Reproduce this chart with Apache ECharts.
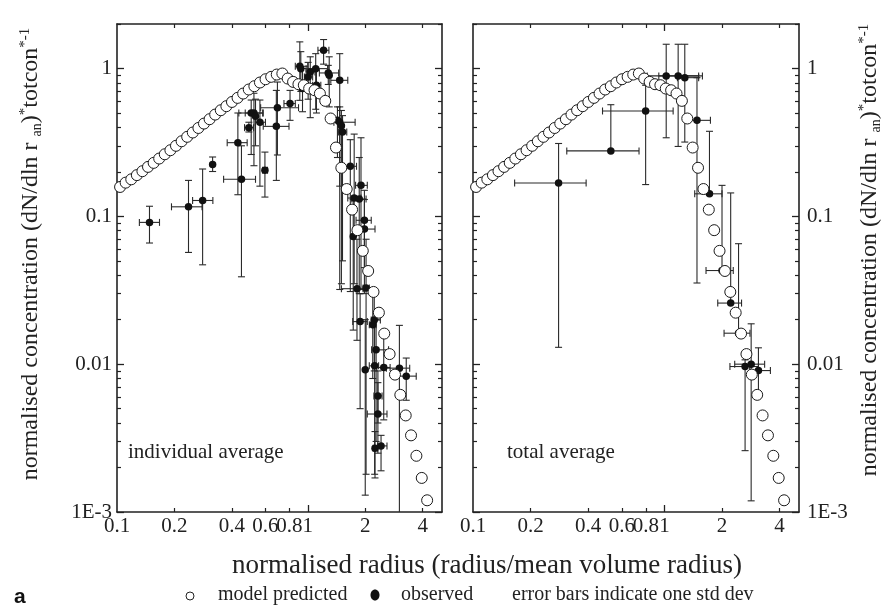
<!DOCTYPE html>
<html><head><meta charset="utf-8">
<script src="https://cdn.jsdelivr.net/npm/echarts@6/dist/echarts.min.js"></script>
<style>html,body{margin:0;padding:0;background:#fff}#c{width:895px;height:607px}</style>
</head><body><div id="c"></div>
<script>
// ---------- tick definitions ----------
const xTickLabels = [0.1, 0.2, 0.4, 0.6, 0.8, 1, 2, 4];
const xMajorTicks = [1];
const xMinorTicks = [0.2, 0.4, 0.6, 0.8, 2, 4];
const yTickLabels = [0.001, 0.01, 0.1, 1];
const yTickLabelText = ['1E-3', '0.01', '0.1', '1'];
const yMajorTicks = [0.001, 0.01, 0.1, 1];
const yMinorTicks = [0.002,0.003,0.004,0.005,0.006,0.007,0.008,0.009,
                     0.02,0.03,0.04,0.05,0.06,0.07,0.08,0.09,
                     0.2,0.3,0.4,0.5,0.6,0.7,0.8,0.9,2];

// ---------- model predicted (open circles, same in both panels) ----------
const modelX = [0.1038,0.1110,0.1188,0.1271,0.1359,0.1454,0.1556,0.1664,0.1780,0.1905,
  0.2038,0.2181,0.2333,0.2496,0.2671,0.2857,0.3057,0.3270,0.3499,0.3743,
  0.4005,0.4284,0.4584,0.4904,0.5247,0.5613,0.6006,0.6426,0.6875,0.7355,
  0.7847,0.8372,0.8932,0.9528,1.0165,1.0844,1.1570,1.2343,1.3168,1.4049,
  1.4988,1.5990,1.7060,1.8197,1.9415,2.0715,2.2097,2.3575,2.5153,2.6834,
  2.8629,3.0540,3.2584,3.4754,3.7076,3.9555,4.2207];
const modelY = [0.158,0.169,0.178,0.190,0.202,0.216,0.230,0.246,0.263,0.280,
  0.300,0.322,0.345,0.369,0.396,0.424,0.454,0.488,0.522,0.556,
  0.594,0.633,0.677,0.721,0.759,0.804,0.846,0.878,0.910,0.925,
  0.855,0.812,0.783,0.771,0.732,0.713,0.677,0.604,0.459,0.292,
  0.213,0.153,0.111,0.0806,0.0584,0.0427,0.0308,0.0223,0.0161,0.0117,
  0.0085,0.0062,0.0045,0.0033,0.0024,0.0017,0.0012];

// ---------- observed, individual average (left panel) ----------
const indX   = [0.148,0.237,0.281,0.317,0.430,0.449,0.491,0.505,0.522,0.532,0.561,0.596,0.684,0.693,0.807,0.908,0.919,0.938,1.004,1.030,1.100,1.110,1.210,1.280,1.295,1.470,1.430,1.470,1.500,1.520,1.670,1.900,1.750,1.860,1.980,1.980,1.730,1.810,2.020,1.880,2.190,2.230,2.280,2.000,2.240,2.500,3.020,3.280,2.330,2.330,2.250,2.420];
const indY   = [0.091,0.116,0.128,0.224,0.315,0.178,0.398,0.500,0.500,0.475,0.433,0.205,0.406,0.543,0.579,1.035,0.998,0.731,0.877,0.948,0.998,0.770,1.328,0.933,0.899,0.832,0.446,0.433,0.410,0.372,0.218,0.162,0.133,0.131,0.094,0.082,0.073,0.0324,0.0327,0.0194,0.0185,0.0199,0.0125,0.00915,0.00974,0.0095,0.0094,0.0083,0.0061,0.0046,0.0027,0.0028];
const indXlo = [0.131,0.193,0.249,null,0.378,0.362,0.466,0.435,0.470,null,0.530,0.580,0.584,0.566,0.750,0.860,null,0.900,0.960,0.980,0.980,1.060,1.130,1.150,null,1.320,1.350,1.370,null,1.450,1.550,1.780,1.620,1.700,1.790,1.790,null,1.500,1.950,1.720,2.100,2.150,2.160,null,2.100,2.300,2.580,2.900,2.220,2.050,2.200,2.320];
const indXhi = [0.167,0.279,0.318,null,0.481,0.532,0.520,0.584,0.580,null,0.600,0.615,0.797,0.894,0.860,1.000,null,0.980,1.060,1.090,1.270,1.170,1.290,1.450,null,1.620,1.520,1.770,null,1.600,1.800,2.050,1.900,2.020,2.150,2.250,null,1.950,2.100,2.050,2.280,2.400,2.650,null,2.350,2.700,3.420,3.700,2.450,2.600,2.320,2.600];
const indYlo = [0.066,0.057,0.047,0.201,0.140,0.039,0.372,0.262,0.220,0.300,0.160,0.135,0.175,0.260,0.446,0.609,0.700,0.510,0.620,0.465,0.530,0.500,1.070,0.780,0.550,0.032,0.250,0.160,0.035,0.050,0.031,0.032,0.035,0.030,0.045,0.030,0.017,0.0145,0.0018,0.005,0.008,0.009,0.003,0.0013,0.0018,0.0042,0.001,0.0057,0.0040,0.0025,0.0017,0.0019];
const indYhi = [0.117,0.175,0.209,0.252,0.500,0.300,0.433,0.612,0.680,0.620,0.612,0.272,0.711,0.810,0.711,1.514,1.300,1.000,1.100,1.200,1.260,0.980,1.570,1.050,1.200,1.260,0.550,0.550,0.520,0.480,0.330,0.340,0.360,0.250,0.150,0.130,0.130,0.070,0.070,0.030,0.030,0.032,0.020,0.020,0.020,0.0154,0.0183,0.0110,0.0090,0.0075,0.0035,0.0033];

// ---------- observed, total average (right panel) ----------
const totX   = [0.280,0.525,0.798,1.022,1.180,1.278,1.480,1.720,2.000,2.220,2.440,2.640,2.840,3.100];
const totY   = [0.168,0.277,0.516,0.891,0.891,0.867,0.446,0.142,0.0430,0.0259,0.0162,0.00964,0.0100,0.00905];
const totXlo = [0.165,0.309,0.475,0.813,0.935,1.170,1.290,1.440,1.650,1.900,2.050,2.200,2.330,2.790];
const totXhi = [0.390,0.737,1.111,1.510,1.580,1.510,1.740,2.000,2.290,2.530,2.800,3.100,3.340,3.580];
const totYlo = [0.0130,null,0.164,0.340,0.297,0.318,0.0354,null,null,null,null,0.0026,0.00119,0.0063];
const totYhi = [0.311,0.569,0.770,1.459,1.459,1.459,0.867,0.376,0.162,0.144,0.0653,0.0107,0.01875,0.0129];

// ---------- build ----------
const SERIF = '"Liberation Serif", "DejaVu Serif", serif';
const INK = '#222';
const X_MIN = 0.1, X_MAX = 5.05, Y_MIN = 0.001, Y_MAX = 2;

function near(v, arr) {
  for (let i = 0; i < arr.length; i++) if (Math.abs(v / arr[i] - 1) < 1e-6) return i;
  return -1;
}
function xAxesFor(g) {
  const base = {type: 'log', logBase: 10, gridIndex: g, min: X_MIN, max: X_MAX,
    splitLine: {show: false}, minorTick: {show: false}, minorSplitLine: {show: false}};
  const fmt = v => { const i = near(v, xTickLabels); return i >= 0 ? String(xTickLabels[i]) : ''; };
  return [
    Object.assign({}, base, {position: 'bottom',
      axisLine: {show: true, onZero: false, lineStyle: {color: INK, width: 1.6}},
      axisTick: {show: true, inside: true, length: 7, customValues: xMajorTicks, lineStyle: {color: INK, width: 1.3}},
      axisLabel: {show: true, customValues: xTickLabels, formatter: fmt, hideOverlap: false,
        fontFamily: SERIF, fontSize: 21, color: INK, margin: 4}}),
    Object.assign({}, base, {position: 'bottom', axisLine: {show: false, onZero: false},
      axisTick: {show: true, inside: true, length: 4, customValues: xMinorTicks, lineStyle: {color: INK, width: 1.2}},
      axisLabel: {show: false}}),
    Object.assign({}, base, {position: 'top',
      axisLine: {show: true, onZero: false, lineStyle: {color: INK, width: 1.6}},
      axisTick: {show: true, inside: true, length: 7, customValues: xMajorTicks, lineStyle: {color: INK, width: 1.3}},
      axisLabel: {show: false}}),
    Object.assign({}, base, {position: 'top', axisLine: {show: false, onZero: false},
      axisTick: {show: true, inside: true, length: 4, customValues: xMinorTicks, lineStyle: {color: INK, width: 1.2}},
      axisLabel: {show: false}})
  ];
}
function yAxesFor(g, labelSide) {
  const base = {type: 'log', logBase: 10, gridIndex: g, min: Y_MIN, max: Y_MAX,
    splitLine: {show: false}, minorTick: {show: false}, minorSplitLine: {show: false}};
  const fmt = v => { const i = near(v, yTickLabels); return i >= 0 ? yTickLabelText[i] : ''; };
  const out = [];
  ['left', 'right'].forEach(side => {
    out.push(Object.assign({}, base, {position: side,
      axisLine: {show: true, onZero: false, lineStyle: {color: INK, width: 1.6}},
      axisTick: {show: true, inside: true, length: 7, customValues: yMajorTicks, lineStyle: {color: INK, width: 1.3}},
      axisLabel: side === labelSide ? {show: true, customValues: yTickLabels, formatter: fmt, hideOverlap: false,
        fontFamily: SERIF, fontSize: 21, color: INK, margin: side === 'left' ? 5 : 8} : {show: false}}));
    out.push(Object.assign({}, base, {position: side, axisLine: {show: false, onZero: false},
      axisTick: {show: true, inside: true, length: 4, customValues: yMinorTicks, lineStyle: {color: INK, width: 1.2}},
      axisLabel: {show: false}}));
  });
  return out;
}

function errRenderer(X, Y, XL, XH, YL, YH) {
  return function (params, api) {
    const i = params.dataIndex;
    const c = api.coord([X[i], Y[i]]);
    const st = {stroke: '#2a2a2a', lineWidth: 1.1, fill: null};
    const cap = 3.5;
    const ch = [];
    const line = (x1, y1, x2, y2) => ch.push({type: 'line', shape: {x1, y1, x2, y2}, style: st});
    if (YL[i] != null || YH[i] != null) {
      const yl = YL[i] != null ? api.coord([X[i], Math.max(YL[i], Y_MIN)])[1] : c[1];
      const yh = YH[i] != null ? api.coord([X[i], YH[i]])[1] : c[1];
      line(c[0], yl, c[0], yh);
      if (YL[i] != null && YL[i] > Y_MIN * 1.01) line(c[0] - cap, yl, c[0] + cap, yl);
      if (YH[i] != null) line(c[0] - cap, yh, c[0] + cap, yh);
    }
    if (XL[i] != null && XH[i] != null) {
      const xl = api.coord([XL[i], Y[i]])[0];
      const xh = api.coord([XH[i], Y[i]])[0];
      line(xl, c[1], xh, c[1]);
      line(xl, c[1] - cap, xl, c[1] + cap);
      line(xh, c[1] - cap, xh, c[1] + cap);
    }
    return {type: 'group', children: ch};
  };
}

function panelSeries(g, X, Y, XL, XH, YL, YH) {
  const xi = g * 4, yi = g * 4;
  const obs = X.map((x, i) => [x, Y[i]]);
  const mod = modelX.map((x, i) => [x, modelY[i]]);
  return [
    {type: 'custom', xAxisIndex: xi, yAxisIndex: yi, data: obs, silent: true, z: 2,
      renderItem: errRenderer(X, Y, XL, XH, YL, YH), encode: {x: 0, y: 1}},
    {type: 'scatter', name: 'observed', xAxisIndex: xi, yAxisIndex: yi, data: obs, symbol: 'circle',
      symbolSize: 7.5, itemStyle: {color: '#111', opacity: 1}, z: 3, silent: true},
    {type: 'scatter', name: 'model predicted', xAxisIndex: xi, yAxisIndex: yi, data: mod, symbol: 'circle',
      symbolSize: 11, itemStyle: {color: '#fff', borderColor: '#1a1a1a', borderWidth: 1, opacity: 1}, z: 4, silent: true}
  ];
}

const yTitle = '{m|normalised concentration (dN/dln r }{s|an}{m|)}{p|*}{m|totcon}{p|*-1}';
const yRich = {
  m: {fontSize: 24, fontFamily: SERIF, fill: INK, color: INK, lineHeight: 26, verticalAlign: 'middle'},
  s: {fontSize: 14, fontFamily: SERIF, fill: INK, color: INK, lineHeight: 26, verticalAlign: 'bottom'},
  p: {fontSize: 15, fontFamily: SERIF, fill: INK, color: INK, lineHeight: 26, verticalAlign: 'top'}
};

const chart = echarts.init(document.getElementById('c'), null, {renderer: 'canvas'});
chart.setOption({
  animation: false,
  backgroundColor: '#fff',
  grid: [
    {left: 117, top: 24, width: 325, height: 488, containLabel: false, outerBoundsMode: 'none'},
    {left: 473, top: 24, width: 326, height: 488, containLabel: false, outerBoundsMode: 'none'}
  ],
  xAxis: xAxesFor(0).concat(xAxesFor(1)),
  yAxis: yAxesFor(0, 'left').concat(yAxesFor(1, 'right')),
  series: panelSeries(0, indX, indY, indXlo, indXhi, indYlo, indYhi)
    .concat(panelSeries(1, totX, totY, totXlo, totXhi, totYlo, totYhi)),
  graphic: [
    {type: 'text', x: 31, y: 254, rotation: Math.PI / 2,
      style: {text: yTitle, rich: yRich, align: 'center', verticalAlign: 'middle', textAlign: 'center', textVerticalAlign: 'middle'}},
    {type: 'text', x: 870, y: 250, rotation: Math.PI / 2,
      style: {text: yTitle, rich: yRich, align: 'center', verticalAlign: 'middle', textAlign: 'center', textVerticalAlign: 'middle'}},
    {type: 'text', x: 128, y: 452, style: {text: 'individual average', font: '21px ' + SERIF, fill: INK, verticalAlign: 'middle', textVerticalAlign: 'middle'}},
    {type: 'text', x: 507, y: 452, style: {text: 'total average', font: '21px ' + SERIF, fill: INK, verticalAlign: 'middle', textVerticalAlign: 'middle'}},
    {type: 'text', x: 487, y: 566, style: {text: 'normalised radius (radius/mean volume radius)', font: '27px ' + SERIF, fill: INK,
      align: 'center', verticalAlign: 'middle', textAlign: 'center', textVerticalAlign: 'middle'}},
    {type: 'circle', shape: {cx: 190, cy: 596, r: 4}, style: {fill: '#fff', stroke: INK, lineWidth: 1}},
    {type: 'text', x: 218, y: 595, style: {text: 'model predicted', font: '20px ' + SERIF, fill: INK, verticalAlign: 'middle', textVerticalAlign: 'middle'}},
    {type: 'ellipse', shape: {cx: 375, cy: 595, rx: 4.5, ry: 5.5}, style: {fill: '#111'}},
    {type: 'text', x: 401, y: 595, style: {text: 'observed', font: '20px ' + SERIF, fill: INK, verticalAlign: 'middle', textVerticalAlign: 'middle'}},
    {type: 'text', x: 512, y: 595, style: {text: 'error bars indicate one std dev', font: '20px ' + SERIF, fill: INK, verticalAlign: 'middle', textVerticalAlign: 'middle'}},
    {type: 'text', x: 14, y: 597, style: {text: 'a', font: 'bold 21px "Liberation Sans", Arial, sans-serif', fill: '#111', verticalAlign: 'middle', textVerticalAlign: 'middle'}}
  ]
});
</script>
</body></html>
